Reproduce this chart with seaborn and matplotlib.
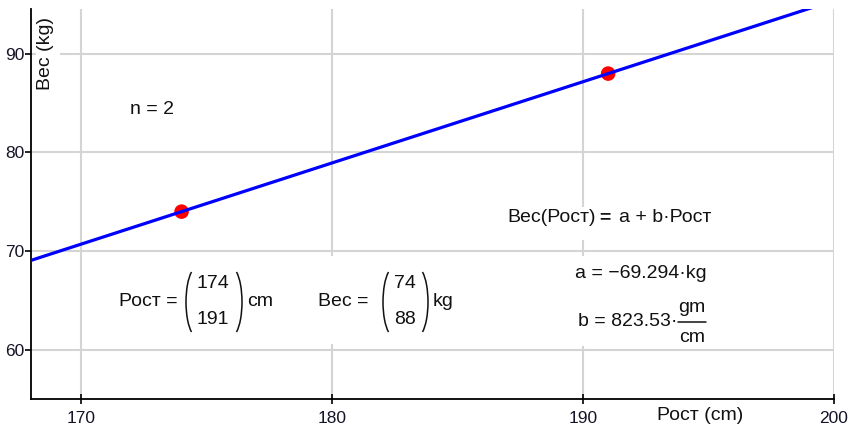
import matplotlib
matplotlib.use("Agg")
import matplotlib.pyplot as plt
import seaborn as sns
import numpy as np
import pandas as pd
from matplotlib.patches import Arc, Rectangle

# ---- data ----
rost = [174, 191]          # cm
ves = [74, 88]             # kg
x_ticks = [170, 180, 190, 200]
y_ticks = [60, 70, 80, 90]
coef_a = -69.294
coef_b = 823.53            # gm/cm

df = pd.DataFrame({"Рост": rost, "Вес": ves})

sns.set_theme(style="white")
plt.rcParams["font.family"] = ["Liberation Sans", "DejaVu Sans"]

W, H = 856, 433
fig = plt.figure(figsize=(W / 100, H / 100), dpi=100)
ax = fig.add_axes([31 / W, 34 / H, 803 / W, 390 / H])
ax.set_xlim(168, 200)
ax.set_ylim(55, 94.55)

# points first, line on top (as in reference)
sns.scatterplot(data=df, x="Рост", y="Вес", ax=ax, color="#ff0000", s=110,
                edgecolor="none", zorder=3, legend=False)
sns.regplot(data=df, x="Рост", y="Вес", ax=ax, scatter=False, ci=None,
            truncate=False, line_kws=dict(color="#0000ff", lw=2.3, zorder=4))

ax.set_xticks(x_ticks)
ax.set_yticks(y_ticks)
ax.set_xticklabels([str(t) for t in x_ticks])
ax.set_yticklabels([str(t) for t in y_ticks])
ax.grid(True, color="#d4d4d4", lw=1.5)
ax.set_axisbelow(True)
for s in ["top", "right"]:
    ax.spines[s].set_visible(False)
for s in ["left", "bottom"]:
    ax.spines[s].set_color("black")
    ax.spines[s].set_linewidth(1.3)
ax.tick_params(axis="x", direction="inout", length=7, width=1.2, color="black",
               labelsize=12.5, labelcolor="#141428", pad=5, bottom=True)
ax.tick_params(axis="y", direction="out", length=4, width=1.2, color="black",
               labelsize=12.5, labelcolor="#141428", pad=1, left=True)
ax.set_xlabel("")
ax.set_ylabel("")

FS = 14
TC = "#111111"


def fp(x, y):
    return (x / W, 1 - y / H)


def txt(x, y, s, ha="center", va="center", **kw):
    kw.setdefault("fontsize", FS)
    kw.setdefault("color", TC)
    return ax.text(*fp(x, y), s, ha=ha, va=va, transform=fig.transFigure,
                   zorder=5, **kw)


def blank(x0, y0, x1, y1):
    ax.add_patch(Rectangle((x0 / 100, (H - y1) / 100), (x1 - x0) / 100,
                           (y1 - y0) / 100, transform=fig.dpi_scale_trans,
                           facecolor="white", edgecolor="none", zorder=1))


def paren(xb, ytop, ybot, left=True, bulge=5.5):
    # thin curved bracket drawn as elliptic arc; xb = x of the bulge (px)
    h = ybot - ytop
    t = np.radians(60)                      # parametric half-angle
    B = h / (2 * np.sin(t))
    A = bulge / (1 - np.cos(t))
    g = np.degrees(np.arctan2(B * np.sin(t), A * np.cos(t)))  # geometric angle
    cy = (ytop + ybot) / 2
    if left:
        cx = xb + A
        t1, t2 = 180 - g, 180 + g
    else:
        cx = xb - A
        t1, t2 = -g, g
    ax.add_patch(Arc((cx / 100, (H - cy) / 100), 2 * A / 100, 2 * B / 100,
                     theta1=t1, theta2=t2, transform=fig.dpi_scale_trans,
                     color=TC, lw=1.1, zorder=5))


# occlusion boxes (math regions hide the grid)
blank(36, 9, 60, 96)
blank(318, 256, 460, 344)
blank(498, 207, 722, 240)
blank(570, 256, 712, 346)

# axis titles
txt(46, 53, "Вес (kg)", rotation=90)
txt(700, 415, "Рост (cm)")

# n = 2
txt(152, 110, "n = 2")

# Рост vector
txt(178, 302, "Рост =", ha="right")
txt(213, 284, str(rost[0]))
txt(213, 320, str(rost[1]))
paren(186, 272, 332, left=True)
paren(242, 272, 332, left=False)
txt(247, 302, "cm", ha="left")

# Вес vector
txt(369, 302, "Вес =", ha="right")
txt(405, 284, str(ves[0]))
txt(405, 320, str(ves[1]))
paren(383, 272, 332, left=True)
paren(428, 272, 332, left=False)
txt(433, 302, "kg", ha="left")

# regression formula
txt(596, 218, "Вес(Рост)", ha="right")
txt(605, 218, "=", fontweight="bold")
txt(619, 218, "a + b·Рост", ha="left")

txt(707, 273, f"a = −{abs(coef_a):.3f}·kg", ha="right")
txt(677, 321, f"b = {coef_b:.2f}·", ha="right")
txt(692, 307, "gm")
txt(692, 337, "cm")
ax.add_line(plt.Line2D([678 / W, 706 / W], [1 - 322 / H, 1 - 322 / H],
                       transform=fig.transFigure, color=TC, lw=1.1, zorder=5))

fig.savefig("out.png", dpi=100, facecolor="white")
